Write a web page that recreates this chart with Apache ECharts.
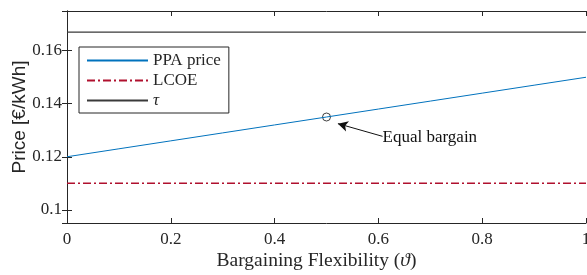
<!DOCTYPE html>
<html>
<head>
<meta charset="utf-8">
<script src="https://cdn.jsdelivr.net/npm/echarts@6/dist/echarts.min.js"></script>
<style>
  html, body { margin: 0; padding: 0; background: #fff; }
  #chart { width: 587px; height: 275px; }
</style>
</head>
<body>
<div id="chart"></div>
<script>
// data
const flex = [0, 0.1, 0.2, 0.3, 0.4, 0.5, 0.6, 0.7, 0.8, 0.9, 1];
const ppaPrice = [0.12, 0.123, 0.126, 0.129, 0.132, 0.135, 0.138, 0.141, 0.144, 0.147, 0.15];
const lcoe = [0.11, 0.11, 0.11, 0.11, 0.11, 0.11, 0.11, 0.11, 0.11, 0.11, 0.11];
const tau = [0.167, 0.167, 0.167, 0.167, 0.167, 0.167, 0.167, 0.167, 0.167, 0.167, 0.167];
const equalPoint = [0.5, 0.135];
const arrowFrom = [0.608, 0.1277];
const arrowTo = [0.522, 0.1325];

const serif = '"Liberation Serif", "DejaVu Serif", serif';
const ink = '#262626';

const pairs = ys => flex.map((x, i) => [x, ys[i]]);

const chart = echarts.init(document.getElementById('chart'));

const xBase = {
    type: 'value', min: 0, max: 1, splitNumber: 5,
    axisLine: { lineStyle: { color: ink, width: 1 } },
    axisTick: { inside: true, length: 5, lineStyle: { color: ink } },
    splitLine: { show: false }
};
const yBase = {
    type: 'value', min: 0.095, max: 0.175, splitNumber: 4,
    axisLine: { show: true, lineStyle: { color: ink, width: 1 } },
    axisTick: { show: true, inside: true, length: 5, lineStyle: { color: ink } },
    splitLine: { show: false }
};

chart.setOption({
    animation: false,
    grid: { left: 67, right: 1, top: 11, bottom: 52, containLabel: false, outerBoundsMode: 'none' },
    xAxis: [
        Object.assign({}, xBase, {
            position: 'bottom',
            axisLabel: { color: ink, fontFamily: serif, fontSize: 17, margin: 8 },
            name: 'Bargaining Flexibility ({i|ϑ})',
            nameLocation: 'middle',
            nameGap: 28,
            nameMoveOverlap: false,
            nameTextStyle: {
                color: ink, fontFamily: serif, fontSize: 19.5,
                padding: [0, 20, 0, 0],
                rich: { i: { fontStyle: 'italic', fontFamily: serif, fontSize: 19.5, color: ink } }
            }
        }),
        Object.assign({}, xBase, { position: 'top', axisLabel: { show: false } })
    ],
    yAxis: [
        Object.assign({}, yBase, {
            position: 'left',
            axisLabel: { color: ink, fontFamily: serif, fontSize: 17, margin: 5, showMinLabel: false, showMaxLabel: false },
            name: 'Price [€/kWh]',
            nameLocation: 'middle',
            nameGap: 38,
            nameMoveOverlap: false,
            nameTextStyle: { color: ink, fontFamily: '"Liberation Sans", Arial, sans-serif', fontSize: 19 }
        }),
        Object.assign({}, yBase, { position: 'right', axisLabel: { show: false } })
    ],
    legend: {
        orient: 'vertical',
        left: 79, top: 47,
        padding: [5, 8, 4, 7],
        itemGap: 3,
        itemWidth: 61,
        itemHeight: 14,
        backgroundColor: '#fff',
        borderColor: ink,
        borderWidth: 1,
        borderRadius: 0,
        itemStyle: { opacity: 0 },
        textStyle: {
            color: ink, fontFamily: serif, fontSize: 17, lineHeight: 17,
            rich: { i: { fontStyle: 'italic', fontFamily: serif, fontSize: 17, color: ink } }
        },
        formatter: name => name === 'τ' ? '{i|τ}' : name,
        data: ['PPA price', 'LCOE', 'τ']
    },
    series: [
        {
            name: 'PPA price', type: 'line', data: pairs(ppaPrice),
            showSymbol: false, symbol: 'none',
            lineStyle: { color: '#0072BD', width: 1 }, itemStyle: { color: '#0072BD' }
        },
        {
            name: 'LCOE', type: 'line', data: pairs(lcoe),
            showSymbol: false, symbol: 'none',
            lineStyle: { color: '#B0102E', width: 1.3, type: [8, 3, 2, 3] }, itemStyle: { color: '#B0102E' }
        },
        {
            name: 'τ', type: 'line', data: pairs(tau),
            showSymbol: false, symbol: 'none',
            lineStyle: { color: '#3a3a3a', width: 1.2 }, itemStyle: { color: '#3a3a3a' }
        },
        {
            name: 'Equal bargain', type: 'scatter', data: [equalPoint],
            symbol: 'circle', symbolSize: 8,
            itemStyle: { color: 'rgba(0,0,0,0)', borderColor: '#111', borderWidth: 1 },
            markLine: {
                silent: true,
                symbol: ['none', 'arrow'],
                symbolSize: [8, 10],
                lineStyle: { color: '#111', width: 1, type: 'solid' },
                label: { show: false },
                data: [[{ coord: arrowFrom }, { coord: arrowTo }]]
            },
            markPoint: {
                silent: true,
                symbol: 'circle', symbolSize: 0,
                label: {
                    show: true, position: 'right', distance: 0, offset: [0, 1],
                    formatter: 'Equal bargain',
                    color: '#111', fontFamily: serif, fontSize: 17
                },
                data: [{ coord: arrowFrom }]
            }
        }
    ]
});
</script>
</body>
</html>
